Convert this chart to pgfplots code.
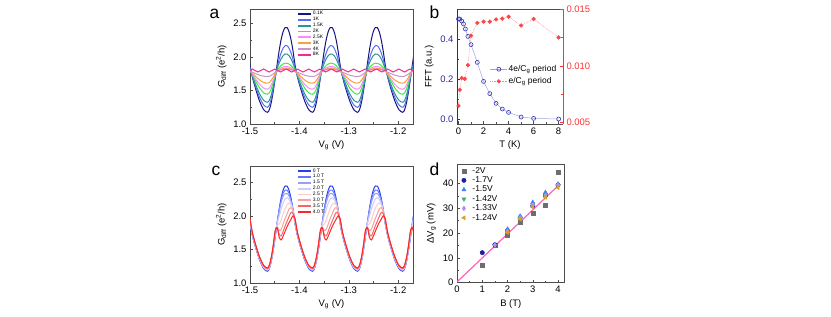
\documentclass[border=0pt]{standalone}
\usepackage{fontspec}
\setmainfont{Liberation Sans}
\usepackage{pgfplots}
\usepackage{pgfplotstable}
\pgfplotsset{compat=1.18}

\definecolor{ka}{RGB}{20,20,130}
\definecolor{kb}{RGB}{90,110,240}
\definecolor{kc}{RGB}{40,150,150}
\definecolor{kd}{RGB}{70,230,70}
\definecolor{ke}{RGB}{250,140,250}
\definecolor{kf}{RGB}{250,160,60}
\definecolor{kg}{RGB}{200,150,200}
\definecolor{kh}{RGB}{250,40,140}
\definecolor{ta}{RGB}{40,60,250}
\definecolor{tb}{RGB}{100,120,250}
\definecolor{tc}{RGB}{150,160,250}
\definecolor{td}{RGB}{205,205,250}
\definecolor{te}{RGB}{250,205,205}
\definecolor{tf}{RGB}{250,160,160}
\definecolor{tg}{RGB}{250,100,100}
\definecolor{th}{RGB}{250,40,40}
\definecolor{axblue}{RGB}{40,40,160}
\definecolor{axred}{RGB}{255,50,50}
\definecolor{fftblue}{RGB}{50,50,180}
\definecolor{fftline}{RGB}{160,160,230}
\definecolor{fftred}{RGB}{250,70,70}
\definecolor{fftredl}{RGB}{250,140,140}
\definecolor{dgray}{RGB}{110,110,110}
\definecolor{dnavy}{RGB}{30,30,160}
\definecolor{dblue}{RGB}{60,130,240}
\definecolor{dgreen}{RGB}{60,180,100}
\definecolor{dlav}{RGB}{175,145,240}
\definecolor{dorange}{RGB}{220,160,30}
\definecolor{dpink}{RGB}{255,100,180}

\pgfplotstableread{
x a01 a1 a15 a2 a25 a3 a4 c0 c1 c15 c2 c25 c3 c35 c4
-1.5121 2.376 2.131 2.020 1.896 1.852 1.829 1.816 2.376 2.330 2.290 2.240 2.190 2.100 1.990 1.900
-1.5081 2.255 2.061 1.972 1.873 1.838 1.820 1.810 2.255 2.230 2.210 2.180 2.160 2.120 2.050 1.950
-1.5041 2.086 1.962 1.905 1.842 1.819 1.808 1.801 2.086 2.085 2.080 2.070 2.070 2.070 2.030 2.000
-1.5001 1.883 1.843 1.824 1.804 1.796 1.792 1.790 1.883 1.890 1.900 1.900 1.910 1.920 1.930 1.960
-1.4951 1.700 1.710 1.721 1.737 1.748 1.761 1.775 1.700 1.710 1.715 1.720 1.730 1.735 1.740 1.750
-1.4881 1.514 1.547 1.581 1.634 1.667 1.707 1.752 1.514 1.524 1.530 1.535 1.540 1.550 1.550 1.560
-1.4801 1.333 1.389 1.444 1.533 1.589 1.655 1.729 1.333 1.343 1.350 1.355 1.360 1.370 1.370 1.380
-1.4721 1.212 1.283 1.353 1.466 1.536 1.621 1.715 1.212 1.222 1.228 1.232 1.240 1.250 1.250 1.260
-1.4648 1.175 1.250 1.325 1.445 1.520 1.610 1.710 1.175 1.185 1.190 1.195 1.205 1.210 1.215 1.225
-1.4608 1.215 1.285 1.355 1.467 1.537 1.621 1.715 1.215 1.224 1.230 1.235 1.245 1.250 1.260 1.270
-1.4568 1.327 1.383 1.440 1.530 1.586 1.654 1.729 1.327 1.337 1.340 1.350 1.360 1.370 1.380 1.390
-1.4528 1.496 1.531 1.567 1.624 1.659 1.702 1.749 1.496 1.506 1.510 1.520 1.540 1.550 1.560 1.570
-1.4488 1.694 1.705 1.716 1.734 1.746 1.759 1.774 1.694 1.704 1.710 1.730 1.750 1.760 1.770 1.790
-1.4448 1.905 1.856 1.833 1.808 1.799 1.794 1.791 1.905 1.910 1.900 1.890 1.860 1.830 1.820 1.820
-1.4408 2.105 1.973 1.912 1.845 1.821 1.809 1.802 2.105 2.090 2.070 2.000 1.880 1.780 1.720 1.680
-1.4368 2.269 2.069 1.978 1.876 1.840 1.821 1.810 2.269 2.240 2.200 2.100 1.940 1.800 1.700 1.640
-1.4328 2.385 2.137 2.024 1.898 1.853 1.830 1.817 2.385 2.340 2.290 2.190 2.030 1.880 1.770 1.700
-1.4288 2.443 2.171 2.047 1.909 1.859 1.835 1.820 2.443 2.380 2.330 2.250 2.110 1.960 1.850 1.770
-1.4248 2.441 2.170 2.046 1.908 1.859 1.834 1.820 2.441 2.380 2.330 2.270 2.170 2.030 1.920 1.840
-1.4208 2.376 2.131 2.020 1.896 1.852 1.829 1.816 2.376 2.330 2.290 2.240 2.190 2.100 1.990 1.900
-1.4168 2.255 2.061 1.972 1.873 1.838 1.820 1.810 2.255 2.230 2.210 2.180 2.160 2.120 2.050 1.950
-1.4128 2.086 1.962 1.905 1.842 1.819 1.808 1.801 2.086 2.085 2.080 2.070 2.070 2.070 2.030 2.000
-1.4088 1.883 1.843 1.824 1.804 1.796 1.792 1.790 1.883 1.890 1.900 1.900 1.910 1.920 1.930 1.960
-1.4038 1.700 1.710 1.721 1.737 1.748 1.761 1.775 1.700 1.710 1.715 1.720 1.730 1.735 1.740 1.750
-1.3968 1.514 1.547 1.581 1.634 1.667 1.707 1.752 1.514 1.524 1.530 1.535 1.540 1.550 1.550 1.560
-1.3888 1.333 1.389 1.444 1.533 1.589 1.655 1.729 1.333 1.343 1.350 1.355 1.360 1.370 1.370 1.380
-1.3808 1.212 1.283 1.353 1.466 1.536 1.621 1.715 1.212 1.222 1.228 1.232 1.240 1.250 1.250 1.260
-1.3735 1.175 1.250 1.325 1.445 1.520 1.610 1.710 1.175 1.185 1.190 1.195 1.205 1.210 1.215 1.225
-1.3695 1.215 1.285 1.355 1.467 1.537 1.621 1.715 1.215 1.224 1.230 1.235 1.245 1.250 1.260 1.270
-1.3655 1.327 1.383 1.440 1.530 1.586 1.654 1.729 1.327 1.337 1.340 1.350 1.360 1.370 1.380 1.390
-1.3615 1.496 1.531 1.567 1.624 1.659 1.702 1.749 1.496 1.506 1.510 1.520 1.540 1.550 1.560 1.570
-1.3575 1.694 1.705 1.716 1.734 1.746 1.759 1.774 1.694 1.704 1.710 1.730 1.750 1.760 1.770 1.790
-1.3535 1.905 1.856 1.833 1.808 1.799 1.794 1.791 1.905 1.910 1.900 1.890 1.860 1.830 1.820 1.820
-1.3495 2.105 1.973 1.912 1.845 1.821 1.809 1.802 2.105 2.090 2.070 2.000 1.880 1.780 1.720 1.680
-1.3455 2.269 2.069 1.978 1.876 1.840 1.821 1.810 2.269 2.240 2.200 2.100 1.940 1.800 1.700 1.640
-1.3415 2.385 2.137 2.024 1.898 1.853 1.830 1.817 2.385 2.340 2.290 2.190 2.030 1.880 1.770 1.700
-1.3375 2.443 2.171 2.047 1.909 1.859 1.835 1.820 2.443 2.380 2.330 2.250 2.110 1.960 1.850 1.770
-1.3335 2.441 2.170 2.046 1.908 1.859 1.834 1.820 2.441 2.380 2.330 2.270 2.170 2.030 1.920 1.840
-1.3295 2.376 2.131 2.020 1.896 1.852 1.829 1.816 2.376 2.330 2.290 2.240 2.190 2.100 1.990 1.900
-1.3255 2.255 2.061 1.972 1.873 1.838 1.820 1.810 2.255 2.230 2.210 2.180 2.160 2.120 2.050 1.950
-1.3215 2.086 1.962 1.905 1.842 1.819 1.808 1.801 2.086 2.085 2.080 2.070 2.070 2.070 2.030 2.000
-1.3175 1.883 1.843 1.824 1.804 1.796 1.792 1.790 1.883 1.890 1.900 1.900 1.910 1.920 1.930 1.960
-1.3125 1.700 1.710 1.721 1.737 1.748 1.761 1.775 1.700 1.710 1.715 1.720 1.730 1.735 1.740 1.750
-1.3055 1.514 1.547 1.581 1.634 1.667 1.707 1.752 1.514 1.524 1.530 1.535 1.540 1.550 1.550 1.560
-1.2975 1.333 1.389 1.444 1.533 1.589 1.655 1.729 1.333 1.343 1.350 1.355 1.360 1.370 1.370 1.380
-1.2895 1.212 1.283 1.353 1.466 1.536 1.621 1.715 1.212 1.222 1.228 1.232 1.240 1.250 1.250 1.260
-1.2822 1.175 1.250 1.325 1.445 1.520 1.610 1.710 1.175 1.185 1.190 1.195 1.205 1.210 1.215 1.225
-1.2782 1.215 1.285 1.355 1.467 1.537 1.621 1.715 1.215 1.224 1.230 1.235 1.245 1.250 1.260 1.270
-1.2742 1.327 1.383 1.440 1.530 1.586 1.654 1.729 1.327 1.337 1.340 1.350 1.360 1.370 1.380 1.390
-1.2702 1.496 1.531 1.567 1.624 1.659 1.702 1.749 1.496 1.506 1.510 1.520 1.540 1.550 1.560 1.570
-1.2662 1.694 1.705 1.716 1.734 1.746 1.759 1.774 1.694 1.704 1.710 1.730 1.750 1.760 1.770 1.790
-1.2622 1.905 1.856 1.833 1.808 1.799 1.794 1.791 1.905 1.910 1.900 1.890 1.860 1.830 1.820 1.820
-1.2582 2.105 1.973 1.912 1.845 1.821 1.809 1.802 2.105 2.090 2.070 2.000 1.880 1.780 1.720 1.680
-1.2542 2.269 2.069 1.978 1.876 1.840 1.821 1.810 2.269 2.240 2.200 2.100 1.940 1.800 1.700 1.640
-1.2502 2.385 2.137 2.024 1.898 1.853 1.830 1.817 2.385 2.340 2.290 2.190 2.030 1.880 1.770 1.700
-1.2462 2.443 2.171 2.047 1.909 1.859 1.835 1.820 2.443 2.380 2.330 2.250 2.110 1.960 1.850 1.770
-1.2422 2.441 2.170 2.046 1.908 1.859 1.834 1.820 2.441 2.380 2.330 2.270 2.170 2.030 1.920 1.840
-1.2382 2.376 2.131 2.020 1.896 1.852 1.829 1.816 2.376 2.330 2.290 2.240 2.190 2.100 1.990 1.900
-1.2342 2.255 2.061 1.972 1.873 1.838 1.820 1.810 2.255 2.230 2.210 2.180 2.160 2.120 2.050 1.950
-1.2302 2.086 1.962 1.905 1.842 1.819 1.808 1.801 2.086 2.085 2.080 2.070 2.070 2.070 2.030 2.000
-1.2262 1.883 1.843 1.824 1.804 1.796 1.792 1.790 1.883 1.890 1.900 1.900 1.910 1.920 1.930 1.960
-1.2212 1.700 1.710 1.721 1.737 1.748 1.761 1.775 1.700 1.710 1.715 1.720 1.730 1.735 1.740 1.750
-1.2142 1.514 1.547 1.581 1.634 1.667 1.707 1.752 1.514 1.524 1.530 1.535 1.540 1.550 1.550 1.560
-1.2062 1.333 1.389 1.444 1.533 1.589 1.655 1.729 1.333 1.343 1.350 1.355 1.360 1.370 1.370 1.380
-1.1982 1.212 1.283 1.353 1.466 1.536 1.621 1.715 1.212 1.222 1.228 1.232 1.240 1.250 1.250 1.260
-1.1909 1.175 1.250 1.325 1.445 1.520 1.610 1.710 1.175 1.185 1.190 1.195 1.205 1.210 1.215 1.225
-1.1869 1.215 1.285 1.355 1.467 1.537 1.621 1.715 1.215 1.224 1.230 1.235 1.245 1.250 1.260 1.270
-1.1829 1.327 1.383 1.440 1.530 1.586 1.654 1.729 1.327 1.337 1.340 1.350 1.360 1.370 1.380 1.390
-1.1789 1.496 1.531 1.567 1.624 1.659 1.702 1.749 1.496 1.506 1.510 1.520 1.540 1.550 1.560 1.570
-1.1749 1.694 1.705 1.716 1.734 1.746 1.759 1.774 1.694 1.704 1.710 1.730 1.750 1.760 1.770 1.790
-1.1709 1.905 1.856 1.833 1.808 1.799 1.794 1.791 1.905 1.910 1.900 1.890 1.860 1.830 1.820 1.820
-1.1669 2.105 1.973 1.912 1.845 1.821 1.809 1.802 2.105 2.090 2.070 2.000 1.880 1.780 1.720 1.680
-1.1629 2.269 2.069 1.978 1.876 1.840 1.821 1.810 2.269 2.240 2.200 2.100 1.940 1.800 1.700 1.640
}\tabAC

\pgfplotstableread{
T v
0 0.500
0.1 0.500
0.25 0.490
0.4 0.475
0.55 0.450
0.75 0.413
1.0 0.372
1.5 0.283
2.0 0.188
2.5 0.127
3.0 0.078
3.5 0.050
4.0 0.033
5.0 0.010
6.0 0.003
8.0 0.000
}\tabBblue

\pgfplotstableread{
T v
0 0.00647
0.1 0.00788
0.25 0.00892
0.5 0.00885
0.75 0.01006
1.0 0.01265
1.5 0.01377
2.0 0.01388
2.5 0.01388
3.0 0.01408
3.5 0.01415
4.0 0.01432
5.0 0.01355
6.0 0.01412
8.0 0.01250
}\tabBred

\pgfplotsset{
  orig/.style={
    scale only axis, anchor=south west,
    tick align=inside, tick pos=left,
    axis line style={draw=black!70, line width=0.6bp},
    major tick length=3bp, minor tick length=1.8bp,
    every tick/.style={black!70, line width=0.5bp},
    /pgf/number format/assume math mode=true,
    tick label style={font=\fontsize{9.5}{10}\selectfont},
    label style={font=\fontsize{9.5}{11}\selectfont},
  },
  onedec/.style={
    /pgf/number format/fixed, /pgf/number format/fixed zerofill, /pgf/number format/precision=1},
  gcurve/.style={line width=1bp, smooth},
  tinylegend/.style={
    legend style={draw=none, fill=none, at={(0.29,0.985)}, anchor=north west,
      font=\fontsize{5}{5}\selectfont, row sep=-0.3bp, inner sep=0pt,
      nodes={inner sep=0.6bp}},
    legend cell align=left,
    legend image code/.code={\draw[##1, line width=1.8bp] (0bp,0bp) -- (13bp,0bp);},
  },
  fftlegend/.style={
    legend image code/.code={\draw[##1] (0bp,0bp) -- (17bp,0bp); \draw[##1, only marks] plot coordinates {(8.5bp,0bp)};},
  },
  dlegend/.style={
    legend image code/.code={\path[draw=none, fill=none] (0bp,-2bp) -- (11bp,2bp); \draw[##1] plot coordinates {(3.5bp,0bp)};},
  },
}

\begin{document}
\begin{tikzpicture}
\useasboundingbox (0,0) rectangle (831bp,317bp);

% ---------- panel a ----------
\begin{axis}[orig, tinylegend, onedec, at={(250bp,193bp)}, width=163bp, height=115bp,
  xmin=-1.5, xmax=-1.17, ymin=1.0, ymax=2.72,
  xtick={-1.5,-1.4,-1.3,-1.2}, ytick={1.0,1.5,2.0,2.5},
  minor x tick num=1, minor y tick num=1,
  xlabel={V\textsubscript{g} (V)}, ylabel={G\textsubscript{diff} (e\textsuperscript{2}/h)}]
\addplot[gcurve, ka] table[x=x, y=a01]{\tabAC}; \addlegendentry{0.1K}
\addplot[gcurve, kb] table[x=x, y=a1]{\tabAC}; \addlegendentry{1K}
\addplot[gcurve, kc] table[x=x, y=a15]{\tabAC}; \addlegendentry{1.5K}
\addplot[gcurve, kd] table[x=x, y=a2]{\tabAC}; \addlegendentry{2K}
\addplot[gcurve, ke] table[x=x, y=a25]{\tabAC}; \addlegendentry{2.5K}
\addplot[gcurve, kf] table[x=x, y=a3]{\tabAC}; \addlegendentry{3K}
\addplot[gcurve, kg] table[x=x, y=a4]{\tabAC}; \addlegendentry{4K}
\addplot[gcurve, kh] coordinates {
(-1.5068,1.778) (-1.5011,1.800) (-1.4954,1.822) (-1.4897,1.800) (-1.4840,1.778) (-1.4783,1.800)
(-1.4726,1.822) (-1.4669,1.800) (-1.4611,1.778) (-1.4554,1.800) (-1.4497,1.822) (-1.4440,1.800)
(-1.4383,1.778) (-1.4326,1.800) (-1.4269,1.822) (-1.4212,1.800) (-1.4155,1.778) (-1.4098,1.800)
(-1.4041,1.822) (-1.3984,1.800) (-1.3927,1.778) (-1.3870,1.800) (-1.3813,1.822) (-1.3756,1.800)
(-1.3698,1.778) (-1.3641,1.800) (-1.3584,1.822) (-1.3527,1.800) (-1.3470,1.778) (-1.3413,1.800)
(-1.3356,1.822) (-1.3299,1.800) (-1.3242,1.778) (-1.3185,1.800) (-1.3128,1.822) (-1.3071,1.800)
(-1.3014,1.778) (-1.2957,1.800) (-1.2900,1.822) (-1.2843,1.800) (-1.2785,1.778) (-1.2728,1.800)
(-1.2671,1.822) (-1.2614,1.800) (-1.2557,1.778) (-1.2500,1.800) (-1.2443,1.822) (-1.2386,1.800)
(-1.2329,1.778) (-1.2272,1.800) (-1.2215,1.822) (-1.2158,1.800) (-1.2101,1.778) (-1.2044,1.800)
(-1.1987,1.822) (-1.1930,1.800) (-1.1872,1.778) (-1.1815,1.800) (-1.1758,1.822) (-1.1701,1.800)
(-1.1644,1.778)}; \addlegendentry{8K}
\end{axis}

% ---------- panel c ----------
\begin{axis}[orig, tinylegend, onedec, at={(250bp,34bp)}, width=163bp, height=117bp,
  xmin=-1.5, xmax=-1.17, ymin=1.0, ymax=2.74,
  xtick={-1.5,-1.4,-1.3,-1.2}, ytick={1.0,1.5,2.0,2.5},
  minor x tick num=1, minor y tick num=1,
  xlabel={V\textsubscript{g} (V)}, ylabel={G\textsubscript{diff} (e\textsuperscript{2}/h)}]
\addplot[gcurve, ta] table[x=x, y=c0]{\tabAC}; \addlegendentry{0 T}
\addplot[gcurve, tb] table[x=x, y=c1]{\tabAC}; \addlegendentry{1.0 T}
\addplot[gcurve, tc] table[x=x, y=c15]{\tabAC}; \addlegendentry{1.5 T}
\addplot[gcurve, td] table[x=x, y=c2]{\tabAC}; \addlegendentry{2.0 T}
\addplot[gcurve, te] table[x=x, y=c25]{\tabAC}; \addlegendentry{2.5 T}
\addplot[gcurve, tf] table[x=x, y=c3]{\tabAC}; \addlegendentry{3.0 T}
\addplot[gcurve, tg] table[x=x, y=c35]{\tabAC}; \addlegendentry{3.5 T}
\addplot[gcurve, th] table[x=x, y=c4]{\tabAC}; \addlegendentry{4.0 T}
\end{axis}

% ---------- panel b ----------
\begin{axis}[orig, onedec, at={(457bp,193bp)}, width=106bp, height=115bp,
  xmin=-0.12, xmax=8.35, ymin=-0.025, ymax=0.55,
  axis x line*=box, axis y line*=left, xtick pos=left,
  x axis line style={draw=black!70}, y axis line style={draw=axblue},
  ytick style={axblue}, yticklabel style={text=axblue},
  xtick={0,2,4,6,8}, ytick={0,0.2,0.4},
  xticklabel style={/pgf/number format/precision=0},
  minor x tick num=1, minor y tick num=1,
  xlabel={T (K)}, ylabel={FFT (a.u.)}]
\addplot[fftline, line width=0.5bp, mark=o, mark size=2bp, mark options={draw=fftblue, line width=0.6bp}]
  table[x=T, y=v]{\tabBblue};
\end{axis}
\begin{axis}[orig, fftlegend, at={(457bp,193bp)}, width=106bp, height=115bp,
  xmin=-0.12, xmax=8.35, ymin=0.00488, ymax=0.015,
  axis x line=none, axis y line*=right, ytick pos=right,
  y axis line style={draw=axred}, ytick style={axred},
  yticklabel style={text=axred},
  scaled y ticks=false,
  /pgf/number format/fixed, /pgf/number format/fixed zerofill, /pgf/number format/precision=3,
  ytick={0.005,0.010,0.015}, minor y tick num=1,
  legend style={draw=none, fill=none, at={(0.31,0.52)}, anchor=north west,
    font=\fontsize{8.5}{9}\selectfont, row sep=2.5bp, inner sep=0pt, nodes={inner sep=1bp}},
  legend cell align=left]
\addlegendimage{fftline, line width=0.5bp, mark=o, mark size=2bp, mark options={draw=fftblue, line width=0.6bp}}
\addlegendentry{4e/C\textsubscript{g} period}
\addplot[fftredl, line width=0.6bp, densely dotted, mark=*, mark size=1.8bp, mark options={solid, fill=fftred, draw=fftred}]
  table[x=T, y=v]{\tabBred};
\addlegendentry{e/C\textsubscript{g} period}
\end{axis}

% ---------- panel d ----------
\begin{axis}[orig, dlegend, at={(457bp,34.3bp)}, width=107.6bp, height=118.4bp,
  xmin=0, xmax=4.26, ymin=0, ymax=47.7,
  xtick={0,1,2,3,4}, ytick={0,10,20,30,40},
  minor x tick num=1, minor y tick num=1,
  xlabel={B (T)}, ylabel={ΔV\textsubscript{g} (mV)},
  legend style={draw=none, fill=none, at={(0.03,0.985)}, anchor=north west,
    font=\fontsize{8.5}{9}\selectfont, row sep=0bp, inner sep=0pt, nodes={inner sep=1bp}},
  legend cell align=left]
\addplot[dpink, line width=1.2bp, forget plot] coordinates {(0,0.3) (4.08,39.8)};
\addplot[only marks, mark=square*, mark size=2bp, color=dgray] coordinates {
(1,7.0) (1.5,15.1) (2,19.1) (2.5,24.2) (3,28.2) (3.5,31.2) (4,44.4)};
\addlegendentry{-2V}
\addplot[only marks, mark=*, mark size=2.2bp, color=dnavy] coordinates {
(1,12.1) (1.5,15.3) (2,21.0) (2.5,26.2) (3,31.0) (3.5,35.1) (4,39.4)};
\addlegendentry{-1.7V}
\addplot[only marks, mark=triangle*, mark size=2.4bp, color=dblue] coordinates {
(2,21.6) (2.5,26.9) (3,32.4) (3.5,36.4) (4,39.8)};
\addlegendentry{-1.5V}
\addplot[only marks, mark=triangle*, mark size=2.4bp, mark options={rotate=180}, color=dgreen] coordinates {
(2,20.8) (2.5,26.0) (3,31.5) (3.5,35.5) (4,39.0)};
\addlegendentry{-1.42V}
\addplot[only marks, mark=diamond*, mark size=2.4bp, color=dlav] coordinates {
(1.5,15.2) (2,20.6) (2.5,26.2) (3,31.3) (3.5,35.0) (4,39.4)};
\addlegendentry{-1.33V}
\addplot[only marks, mark=triangle*, mark size=2.4bp, mark options={rotate=90}, color=dorange] coordinates {
(2,20.3) (2.5,25.6) (3,30.4) (3.5,34.4) (4,38.3)};
\addlegendentry{-1.24V}
\end{axis}

\node[anchor=base west, font=\fontsize{17.5}{18}\selectfont] at (206bp,298bp) {a};
\node[anchor=base west, font=\fontsize{17.5}{18}\selectfont] at (426bp,298bp) {b};
\node[anchor=base west, font=\fontsize{17.5}{18}\selectfont] at (208bp,141.5bp) {c};
\node[anchor=base west, font=\fontsize{17.5}{18}\selectfont] at (426bp,141.5bp) {d};
\end{tikzpicture}
\end{document}
